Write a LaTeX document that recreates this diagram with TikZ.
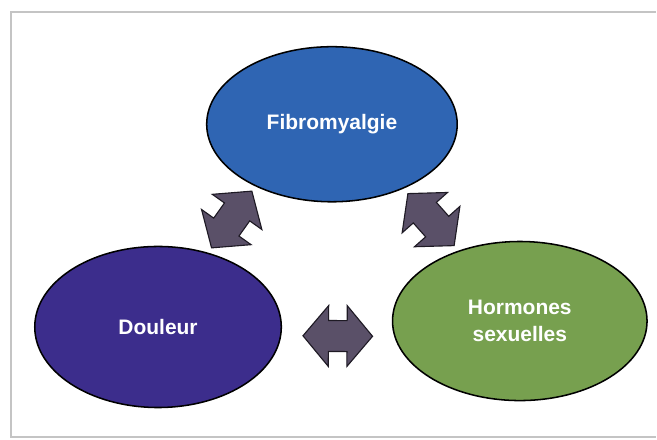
\documentclass[tikz,border=0pt]{standalone}
\usepackage{fontspec}
\setsansfont{Liberation Sans}
\usetikzlibrary{shapes.geometric,shapes.arrows,positioning}
\definecolor{fmframe}{HTML}{C4C4C4}
\definecolor{fmblue}{HTML}{2F65B3}
\definecolor{fmpurple}{HTML}{3C2D8C}
\definecolor{fmgreen}{HTML}{77A04F}
\definecolor{fmlink}{HTML}{5A5068}
\definecolor{fmink}{HTML}{1E1A24}
\tikzset{
  every picture/.style={font=\sffamily\bfseries},
  topic/.style={ellipse,draw=black,line width=1.1pt,inner sep=0pt,
    text=white,align=center,font=\sffamily\bfseries\fontsize{15}{19}\selectfont},
  link/.style={double arrow,draw=fmink,fill=fmlink,line width=0.8pt,
    minimum height=1.75cm,double arrow head extend=0.375cm,
    double arrow tip angle=100,inner xsep=0pt,inner ysep=0.375cm,sloped},
  frameline/.style={draw=fmframe,line width=1.5pt},
}
\begin{document}
\begin{tikzpicture}[x=0.025cm,y=-0.025cm]
  \draw[frameline] (660,440) -- (11,440) -- (11,12) -- (660,12);
  \node[topic,fill=fmblue,minimum width=6.3cm,minimum height=3.9cm] (fibro) at (334,125) {Fibromyalgie};
  \node[topic,fill=fmpurple,minimum width=6.2cm,minimum height=4.05cm] (douleur) at (159,329) {Douleur};
  \node[topic,fill=fmgreen,minimum width=6.4cm,minimum height=4cm] (hormones) at (523,323) {Hormones\\sexuelles};
  % double arrows sit on the gap between two ellipses
  \path (douleur.56) -- node[link] (dfarrow) {} (fibro.219);
  \path (fibro.-42) -- node[link] (fharrow) {} (hormones.131);
  \path (douleur.-4) -- node[link] (dharrow) {} (hormones.187);
  \path[use as bounding box] (0,0) rectangle (657,442);
\end{tikzpicture}
\end{document}
